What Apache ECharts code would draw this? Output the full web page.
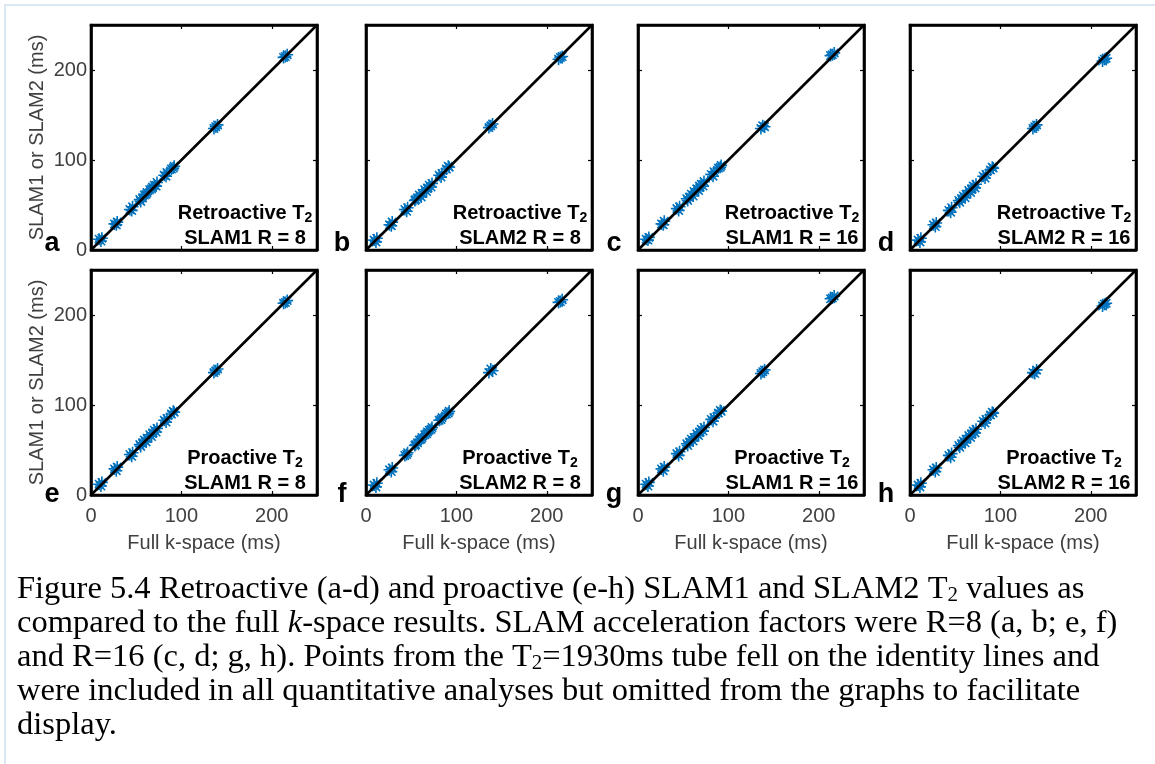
<!DOCTYPE html>
<html>
<head>
<meta charset="utf-8">
<script src="https://cdn.jsdelivr.net/npm/echarts@6/dist/echarts.min.js"></script>
<style>
  html, body { margin: 0; padding: 0; background: #ffffff; }
  #chart { width: 1155px; height: 764px; }
</style>
</head>
<body>
<div id="chart"></div>
<script>
// Full k-space T2 (ms): three ROI samples for each phantom tube
const fullK = [9, 12, 11, 26, 29, 28, 43, 46, 45, 54, 57, 55, 59, 62, 61, 65, 68, 67, 70, 73, 72, 81, 84, 83, 89, 92, 91, 136, 140, 138, 213, 217, 215];

// Retroactive T2 (ms)
const retroSlam1R8  = [12, 13, 10, 29, 31, 28, 45, 48, 44, 56, 58, 54, 61, 64, 62, 67, 70, 68, 72, 75, 71, 83, 86, 82, 90, 93, 91, 135, 139, 137, 214, 217, 215];
const retroSlam2R8  = [11, 13, 9, 28, 31, 27, 45, 47, 43, 55, 58, 56, 61, 63, 59, 67, 69, 65, 72, 74, 70, 83, 85, 81, 90, 92, 93, 136, 140, 138, 212, 215, 214];
const retroSlam1R16 = [12, 14, 11, 29, 32, 28, 46, 48, 44, 57, 59, 55, 62, 65, 60, 68, 71, 66, 73, 76, 71, 84, 87, 82, 91, 94, 92, 135, 137, 138, 216, 219, 217];
const retroSlam2R16 = [11, 13, 9, 28, 30, 26, 44, 47, 42, 55, 57, 53, 60, 62, 58, 66, 68, 64, 71, 73, 69, 82, 84, 80, 89, 91, 92, 135, 139, 137, 210, 213, 212];

// Proactive T2 (ms)
const proSlam1R8  = [12, 14, 10, 29, 31, 27, 45, 47, 43, 56, 58, 54, 61, 63, 59, 67, 69, 65, 72, 74, 70, 83, 85, 81, 90, 92, 93, 136, 140, 138, 213, 216, 214];
const proSlam2R8  = [11, 13, 9, 28, 30, 26, 44, 47, 45, 55, 58, 56, 61, 64, 62, 67, 70, 68, 72, 75, 73, 83, 86, 84, 90, 93, 91, 136, 138, 140, 214, 217, 215];
const proSlam1R16 = [12, 14, 10, 29, 31, 27, 46, 48, 44, 57, 59, 55, 62, 64, 60, 68, 70, 66, 73, 75, 71, 84, 86, 82, 91, 93, 94, 135, 139, 137, 218, 221, 219];
const proSlam2R16 = [11, 13, 9, 28, 30, 26, 44, 46, 42, 55, 57, 53, 60, 62, 58, 66, 68, 64, 71, 73, 69, 82, 84, 80, 89, 91, 92, 136, 139, 135, 210, 213, 212];

const panelSeries  = [retroSlam1R8, retroSlam2R8, retroSlam1R16, retroSlam2R16, proSlam1R8, proSlam2R8, proSlam1R16, proSlam2R16];
const panelLetters = ['a', 'b', 'c', 'd', 'e', 'f', 'g', 'h'];
const panelModes   = ['Retroactive', 'Retroactive', 'Retroactive', 'Retroactive', 'Proactive', 'Proactive', 'Proactive', 'Proactive'];
const panelMethods = ['SLAM1 R = 8', 'SLAM2 R = 8', 'SLAM1 R = 16', 'SLAM2 R = 16', 'SLAM1 R = 8', 'SLAM2 R = 8', 'SLAM1 R = 16', 'SLAM2 R = 16'];

const tickValues = [0, 100, 200];
const axisMin = 0;
const axisMax = 250;
const identityLine = [[0, 0], [250, 250]];

const xAxisTitle = 'Full k-space (ms)';
const yAxisTitle = 'SLAM1 or SLAM2 (ms)';

const captionLines = [
  '{n|Figure 5.4 Retroactive (a-d) and proactive (e-h) SLAM1 and SLAM2 T}{s|2}{n| values as}',
  '{n|compared to the full }{i|k}{n|-space results. SLAM acceleration factors were R=8 (a, b; e, f)}',
  '{n|and R=16 (c, d; g, h). Points from the T}{s|2}{n|=1930ms tube fell on the identity lines and}',
  '{n|were included in all quantitative analyses but omitted from the graphs to facilitate}',
  '{n|display.}'
];

// ---- layout ----
const SANS = "'Liberation Sans', Arial, Helvetica, sans-serif";
const SERIF = "'Liberation Serif', 'Times New Roman', Times, serif";
const colLefts = [91, 366, 638, 910];
const rowTops = [25, 270];
const gridW = 226;
const gridH = 225;
const markerBlue = '#0072BD';
const tickGray = '#404040';
// eight-armed asterisk marker
const asterisk = 'path://M5,0L5,10M0,5L10,5M1.5,1.5L8.5,8.5M8.5,1.5L1.5,8.5';

const grids = [], xAxes = [], yAxes = [], series = [], graphics = [];

panelSeries.forEach((values, i) => {
  const row = Math.floor(i / 4);
  const col = i % 4;
  const left = colLefts[col];
  const top = rowTops[row];

  grids.push({
    left: left, top: top, width: gridW, height: gridH,
    show: true, borderColor: '#000000', borderWidth: 2.6, backgroundColor: '#ffffff'
  });

  const axisBase = () => ({
    type: 'value', gridIndex: i, min: axisMin, max: axisMax, interval: 100,
    splitLine: { show: false },
    axisLine: { show: true, onZero: false, lineStyle: { color: '#000', width: 2.6 } },
    axisTick: { show: true, inside: true, length: 4, customValues: tickValues, lineStyle: { color: '#000', width: 1.2 } }
  });

  xAxes.push(Object.assign(axisBase(), {
    position: 'bottom',
    axisLabel: { show: row === 1, customValues: tickValues, margin: 11, color: tickGray, fontSize: 20, fontFamily: SANS },
    name: row === 1 ? xAxisTitle : '',
    nameLocation: 'middle', nameGap: 38,
    nameTextStyle: { color: tickGray, fontSize: 20, fontFamily: SANS }
  }));
  xAxes.push(Object.assign(axisBase(), { position: 'top', axisLabel: { show: false } }));

  yAxes.push(Object.assign(axisBase(), {
    position: 'left',
    axisLabel: { show: col === 0, customValues: tickValues, margin: 4, color: tickGray, fontSize: 20, fontFamily: SANS },
    name: col === 0 ? yAxisTitle : '',
    nameLocation: 'middle', nameGap: 44,
    nameTextStyle: { color: tickGray, fontSize: 20, fontFamily: SANS }
  }));
  yAxes.push(Object.assign(axisBase(), { position: 'right', axisLabel: { show: false } }));

  series.push({
    type: 'scatter', xAxisIndex: 2 * i, yAxisIndex: 2 * i,
    data: fullK.map((x, k) => [x, values[k]]),
    symbol: asterisk, symbolSize: 12,
    itemStyle: { color: markerBlue, borderColor: markerBlue, borderWidth: 1.6, opacity: 1 },
    z: 2, silent: true
  });
  series.push({
    type: 'line', xAxisIndex: 2 * i, yAxisIndex: 2 * i,
    data: identityLine, symbol: 'none',
    lineStyle: { color: '#000000', width: 2.6 },
    z: 3, silent: true
  });

  // panel annotation (mode / method) inside the axes
  graphics.push({
    type: 'text', x: left + 154, y: top + 200.5, z: 10, silent: true,
    style: {
      text: '{m|' + panelModes[i] + ' T}{s|2}\n{m|' + panelMethods[i] + '}',
      align: 'center', verticalAlign: 'middle',
      rich: {
        m: { fontSize: 20, fontWeight: 'bold', fontFamily: SANS, fill: '#000', lineHeight: 25 },
        s: { fontSize: 14, fontWeight: 'bold', fontFamily: SANS, fill: '#000', lineHeight: 14, verticalAlign: 'bottom' }
      }
    }
  });

  // panel letter
  graphics.push({
    type: 'text', x: col === 0 ? 52 : left - 24, y: row === 0 ? 244 : 495, z: 10, silent: true,
    style: { text: panelLetters[i], fontSize: 27, fontWeight: 'bold', fontFamily: SANS, fill: '#000', align: 'center', verticalAlign: 'middle' }
  });
});

// page frame
graphics.push({ type: 'line', shape: { x1: 4, y1: 5, x2: 1155, y2: 5 }, style: { stroke: '#dce7f5', lineWidth: 2 }, silent: true });
graphics.push({ type: 'line', shape: { x1: 5, y1: 4, x2: 5, y2: 764 }, style: { stroke: '#dce7f5', lineWidth: 2 }, silent: true });

// figure caption
graphics.push({
  type: 'text', x: 17, y: 572, silent: true,
  style: {
    text: captionLines.join('\n'),
    align: 'left', verticalAlign: 'top',
    rich: {
      n: { fontSize: 32.5, fontFamily: SERIF, fill: '#000', lineHeight: 34 },
      i: { fontSize: 32.5, fontFamily: SERIF, fontStyle: 'italic', fill: '#000', lineHeight: 34 },
      s: { fontSize: 21, fontFamily: SERIF, fill: '#000', lineHeight: 16, verticalAlign: 'bottom' }
    }
  }
});

const chart = echarts.init(document.getElementById('chart'), null, { renderer: 'canvas' });
chart.setOption({
  animation: false,
  backgroundColor: '#ffffff',
  grid: grids,
  xAxis: xAxes,
  yAxis: yAxes,
  series: series,
  graphic: graphics
});
</script>
</body>
</html>
